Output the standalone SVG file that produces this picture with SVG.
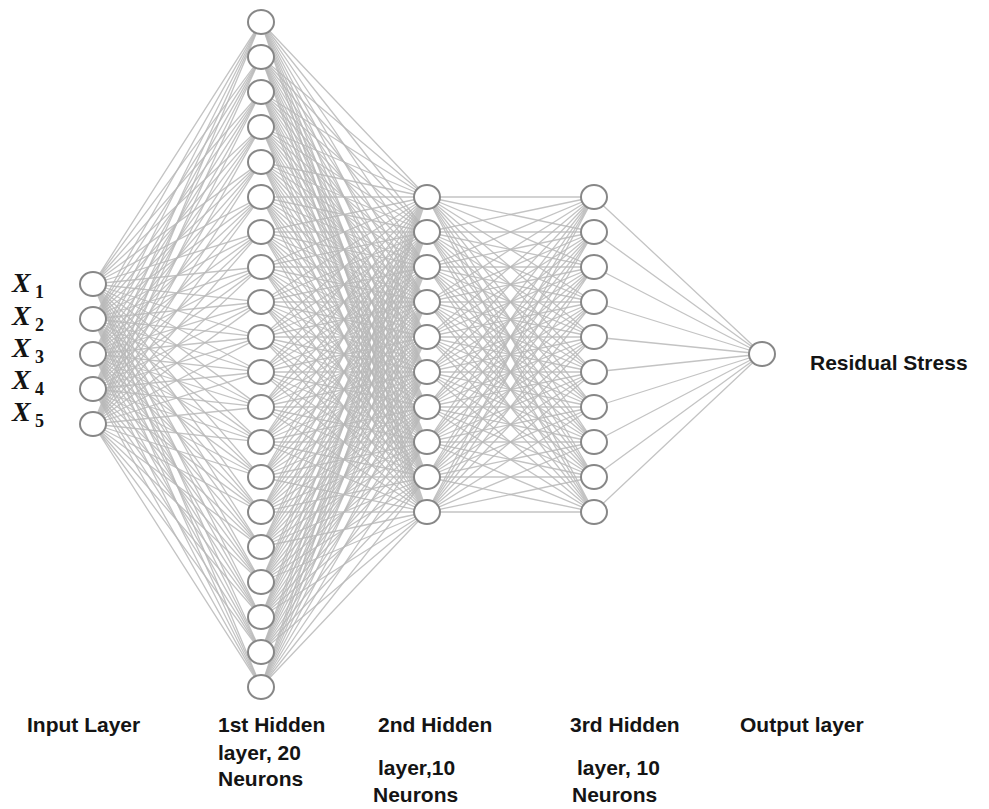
<svg xmlns="http://www.w3.org/2000/svg" width="989" height="809" viewBox="0 0 989 809">
<style>
.e{fill:none;stroke:#b8b8b8;stroke-width:1.3;stroke-opacity:0.85;stroke-linejoin:round}
.n{fill:#fff;stroke:#878787;stroke-width:2}
.t{font-family:"Liberation Sans",Arial,sans-serif;font-weight:bold;font-size:21px;fill:#141414}
.x{font-family:"Liberation Serif","Times New Roman",serif;font-weight:bold;font-style:italic;font-size:28px;fill:#141414}
.s{font-family:"Liberation Serif","Times New Roman",serif;font-weight:bold;font-size:18px;fill:#141414}
</style>
<rect width="989" height="809" fill="#fff"/>
<g id="connectors">
<path class="e" d="M93 284L261 22 93 284 261 57 93 284 261 92 93 284 261 127 93 284 261 162 93 284 261 197 93 284 261 232 93 284 261 267 93 284 261 302 93 284 261 337 93 284 261 372 93 284 261 407 93 284 261 442 93 284 261 477 93 284 261 512 93 284 261 547 93 284 261 582 93 284 261 617 93 284 261 652 93 284 261 687"/>
<path class="e" d="M93 319L261 22 93 319 261 57 93 319 261 92 93 319 261 127 93 319 261 162 93 319 261 197 93 319 261 232 93 319 261 267 93 319 261 302 93 319 261 337 93 319 261 372 93 319 261 407 93 319 261 442 93 319 261 477 93 319 261 512 93 319 261 547 93 319 261 582 93 319 261 617 93 319 261 652 93 319 261 687"/>
<path class="e" d="M93 354L261 22 93 354 261 57 93 354 261 92 93 354 261 127 93 354 261 162 93 354 261 197 93 354 261 232 93 354 261 267 93 354 261 302 93 354 261 337 93 354 261 372 93 354 261 407 93 354 261 442 93 354 261 477 93 354 261 512 93 354 261 547 93 354 261 582 93 354 261 617 93 354 261 652 93 354 261 687"/>
<path class="e" d="M93 389L261 22 93 389 261 57 93 389 261 92 93 389 261 127 93 389 261 162 93 389 261 197 93 389 261 232 93 389 261 267 93 389 261 302 93 389 261 337 93 389 261 372 93 389 261 407 93 389 261 442 93 389 261 477 93 389 261 512 93 389 261 547 93 389 261 582 93 389 261 617 93 389 261 652 93 389 261 687"/>
<path class="e" d="M93 424L261 22 93 424 261 57 93 424 261 92 93 424 261 127 93 424 261 162 93 424 261 197 93 424 261 232 93 424 261 267 93 424 261 302 93 424 261 337 93 424 261 372 93 424 261 407 93 424 261 442 93 424 261 477 93 424 261 512 93 424 261 547 93 424 261 582 93 424 261 617 93 424 261 652 93 424 261 687"/>
<path class="e" d="M427 197L261 22 427 197 261 57 427 197 261 92 427 197 261 127 427 197 261 162 427 197 261 197 427 197 261 232 427 197 261 267 427 197 261 302 427 197 261 337 427 197 261 372 427 197 261 407 427 197 261 442 427 197 261 477 427 197 261 512 427 197 261 547 427 197 261 582 427 197 261 617 427 197 261 652 427 197 261 687"/>
<path class="e" d="M427 232L261 22 427 232 261 57 427 232 261 92 427 232 261 127 427 232 261 162 427 232 261 197 427 232 261 232 427 232 261 267 427 232 261 302 427 232 261 337 427 232 261 372 427 232 261 407 427 232 261 442 427 232 261 477 427 232 261 512 427 232 261 547 427 232 261 582 427 232 261 617 427 232 261 652 427 232 261 687"/>
<path class="e" d="M427 267L261 22 427 267 261 57 427 267 261 92 427 267 261 127 427 267 261 162 427 267 261 197 427 267 261 232 427 267 261 267 427 267 261 302 427 267 261 337 427 267 261 372 427 267 261 407 427 267 261 442 427 267 261 477 427 267 261 512 427 267 261 547 427 267 261 582 427 267 261 617 427 267 261 652 427 267 261 687"/>
<path class="e" d="M427 302L261 22 427 302 261 57 427 302 261 92 427 302 261 127 427 302 261 162 427 302 261 197 427 302 261 232 427 302 261 267 427 302 261 302 427 302 261 337 427 302 261 372 427 302 261 407 427 302 261 442 427 302 261 477 427 302 261 512 427 302 261 547 427 302 261 582 427 302 261 617 427 302 261 652 427 302 261 687"/>
<path class="e" d="M427 337L261 22 427 337 261 57 427 337 261 92 427 337 261 127 427 337 261 162 427 337 261 197 427 337 261 232 427 337 261 267 427 337 261 302 427 337 261 337 427 337 261 372 427 337 261 407 427 337 261 442 427 337 261 477 427 337 261 512 427 337 261 547 427 337 261 582 427 337 261 617 427 337 261 652 427 337 261 687"/>
<path class="e" d="M427 372L261 22 427 372 261 57 427 372 261 92 427 372 261 127 427 372 261 162 427 372 261 197 427 372 261 232 427 372 261 267 427 372 261 302 427 372 261 337 427 372 261 372 427 372 261 407 427 372 261 442 427 372 261 477 427 372 261 512 427 372 261 547 427 372 261 582 427 372 261 617 427 372 261 652 427 372 261 687"/>
<path class="e" d="M427 407L261 22 427 407 261 57 427 407 261 92 427 407 261 127 427 407 261 162 427 407 261 197 427 407 261 232 427 407 261 267 427 407 261 302 427 407 261 337 427 407 261 372 427 407 261 407 427 407 261 442 427 407 261 477 427 407 261 512 427 407 261 547 427 407 261 582 427 407 261 617 427 407 261 652 427 407 261 687"/>
<path class="e" d="M427 442L261 22 427 442 261 57 427 442 261 92 427 442 261 127 427 442 261 162 427 442 261 197 427 442 261 232 427 442 261 267 427 442 261 302 427 442 261 337 427 442 261 372 427 442 261 407 427 442 261 442 427 442 261 477 427 442 261 512 427 442 261 547 427 442 261 582 427 442 261 617 427 442 261 652 427 442 261 687"/>
<path class="e" d="M427 477L261 22 427 477 261 57 427 477 261 92 427 477 261 127 427 477 261 162 427 477 261 197 427 477 261 232 427 477 261 267 427 477 261 302 427 477 261 337 427 477 261 372 427 477 261 407 427 477 261 442 427 477 261 477 427 477 261 512 427 477 261 547 427 477 261 582 427 477 261 617 427 477 261 652 427 477 261 687"/>
<path class="e" d="M427 512L261 22 427 512 261 57 427 512 261 92 427 512 261 127 427 512 261 162 427 512 261 197 427 512 261 232 427 512 261 267 427 512 261 302 427 512 261 337 427 512 261 372 427 512 261 407 427 512 261 442 427 512 261 477 427 512 261 512 427 512 261 547 427 512 261 582 427 512 261 617 427 512 261 652 427 512 261 687"/>
<path class="e" d="M594 197L427 197 594 197 427 232 594 197 427 267 594 197 427 302 594 197 427 337 594 197 427 372 594 197 427 407 594 197 427 442 594 197 427 477 594 197 427 512"/>
<path class="e" d="M594 232L427 197 594 232 427 232 594 232 427 267 594 232 427 302 594 232 427 337 594 232 427 372 594 232 427 407 594 232 427 442 594 232 427 477 594 232 427 512"/>
<path class="e" d="M594 267L427 197 594 267 427 232 594 267 427 267 594 267 427 302 594 267 427 337 594 267 427 372 594 267 427 407 594 267 427 442 594 267 427 477 594 267 427 512"/>
<path class="e" d="M594 302L427 197 594 302 427 232 594 302 427 267 594 302 427 302 594 302 427 337 594 302 427 372 594 302 427 407 594 302 427 442 594 302 427 477 594 302 427 512"/>
<path class="e" d="M594 337L427 197 594 337 427 232 594 337 427 267 594 337 427 302 594 337 427 337 594 337 427 372 594 337 427 407 594 337 427 442 594 337 427 477 594 337 427 512"/>
<path class="e" d="M594 372L427 197 594 372 427 232 594 372 427 267 594 372 427 302 594 372 427 337 594 372 427 372 594 372 427 407 594 372 427 442 594 372 427 477 594 372 427 512"/>
<path class="e" d="M594 407L427 197 594 407 427 232 594 407 427 267 594 407 427 302 594 407 427 337 594 407 427 372 594 407 427 407 594 407 427 442 594 407 427 477 594 407 427 512"/>
<path class="e" d="M594 442L427 197 594 442 427 232 594 442 427 267 594 442 427 302 594 442 427 337 594 442 427 372 594 442 427 407 594 442 427 442 594 442 427 477 594 442 427 512"/>
<path class="e" d="M594 477L427 197 594 477 427 232 594 477 427 267 594 477 427 302 594 477 427 337 594 477 427 372 594 477 427 407 594 477 427 442 594 477 427 477 594 477 427 512"/>
<path class="e" d="M594 512L427 197 594 512 427 232 594 512 427 267 594 512 427 302 594 512 427 337 594 512 427 372 594 512 427 407 594 512 427 442 594 512 427 477 594 512 427 512"/>
<path class="e" d="M762 354L594 197 762 354 594 232 762 354 594 267 762 354 594 302 762 354 594 337 762 354 594 372 762 354 594 407 762 354 594 442 762 354 594 477 762 354 594 512"/>
</g>
<g id="input-layer">
<g id="in1"><ellipse class="n" cx="93" cy="284" rx="13" ry="12"/><text class="x" x="12" y="292">X</text><text class="s" x="35" y="298">1</text></g>
<g id="in2"><ellipse class="n" cx="93" cy="319" rx="13" ry="12"/><text class="x" x="12" y="325">X</text><text class="s" x="35" y="331">2</text></g>
<g id="in3"><ellipse class="n" cx="93" cy="354" rx="13" ry="12"/><text class="x" x="12" y="357">X</text><text class="s" x="35" y="363">3</text></g>
<g id="in4"><ellipse class="n" cx="93" cy="389" rx="13" ry="12"/><text class="x" x="12" y="389">X</text><text class="s" x="35" y="395">4</text></g>
<g id="in5"><ellipse class="n" cx="93" cy="424" rx="13" ry="12"/><text class="x" x="12" y="421">X</text><text class="s" x="35" y="427">5</text></g>
</g>
<g id="hidden1">
<g id="h1-1"><ellipse class="n" cx="261" cy="22" rx="13" ry="12"/></g>
<g id="h1-2"><ellipse class="n" cx="261" cy="57" rx="13" ry="12"/></g>
<g id="h1-3"><ellipse class="n" cx="261" cy="92" rx="13" ry="12"/></g>
<g id="h1-4"><ellipse class="n" cx="261" cy="127" rx="13" ry="12"/></g>
<g id="h1-5"><ellipse class="n" cx="261" cy="162" rx="13" ry="12"/></g>
<g id="h1-6"><ellipse class="n" cx="261" cy="197" rx="13" ry="12"/></g>
<g id="h1-7"><ellipse class="n" cx="261" cy="232" rx="13" ry="12"/></g>
<g id="h1-8"><ellipse class="n" cx="261" cy="267" rx="13" ry="12"/></g>
<g id="h1-9"><ellipse class="n" cx="261" cy="302" rx="13" ry="12"/></g>
<g id="h1-10"><ellipse class="n" cx="261" cy="337" rx="13" ry="12"/></g>
<g id="h1-11"><ellipse class="n" cx="261" cy="372" rx="13" ry="12"/></g>
<g id="h1-12"><ellipse class="n" cx="261" cy="407" rx="13" ry="12"/></g>
<g id="h1-13"><ellipse class="n" cx="261" cy="442" rx="13" ry="12"/></g>
<g id="h1-14"><ellipse class="n" cx="261" cy="477" rx="13" ry="12"/></g>
<g id="h1-15"><ellipse class="n" cx="261" cy="512" rx="13" ry="12"/></g>
<g id="h1-16"><ellipse class="n" cx="261" cy="547" rx="13" ry="12"/></g>
<g id="h1-17"><ellipse class="n" cx="261" cy="582" rx="13" ry="12"/></g>
<g id="h1-18"><ellipse class="n" cx="261" cy="617" rx="13" ry="12"/></g>
<g id="h1-19"><ellipse class="n" cx="261" cy="652" rx="13" ry="12"/></g>
<g id="h1-20"><ellipse class="n" cx="261" cy="687" rx="13" ry="12"/></g>
</g>
<g id="hidden2">
<g id="h2-1"><ellipse class="n" cx="427" cy="197" rx="13" ry="12"/></g>
<g id="h2-2"><ellipse class="n" cx="427" cy="232" rx="13" ry="12"/></g>
<g id="h2-3"><ellipse class="n" cx="427" cy="267" rx="13" ry="12"/></g>
<g id="h2-4"><ellipse class="n" cx="427" cy="302" rx="13" ry="12"/></g>
<g id="h2-5"><ellipse class="n" cx="427" cy="337" rx="13" ry="12"/></g>
<g id="h2-6"><ellipse class="n" cx="427" cy="372" rx="13" ry="12"/></g>
<g id="h2-7"><ellipse class="n" cx="427" cy="407" rx="13" ry="12"/></g>
<g id="h2-8"><ellipse class="n" cx="427" cy="442" rx="13" ry="12"/></g>
<g id="h2-9"><ellipse class="n" cx="427" cy="477" rx="13" ry="12"/></g>
<g id="h2-10"><ellipse class="n" cx="427" cy="512" rx="13" ry="12"/></g>
</g>
<g id="hidden3">
<g id="h3-1"><ellipse class="n" cx="594" cy="197" rx="13" ry="12"/></g>
<g id="h3-2"><ellipse class="n" cx="594" cy="232" rx="13" ry="12"/></g>
<g id="h3-3"><ellipse class="n" cx="594" cy="267" rx="13" ry="12"/></g>
<g id="h3-4"><ellipse class="n" cx="594" cy="302" rx="13" ry="12"/></g>
<g id="h3-5"><ellipse class="n" cx="594" cy="337" rx="13" ry="12"/></g>
<g id="h3-6"><ellipse class="n" cx="594" cy="372" rx="13" ry="12"/></g>
<g id="h3-7"><ellipse class="n" cx="594" cy="407" rx="13" ry="12"/></g>
<g id="h3-8"><ellipse class="n" cx="594" cy="442" rx="13" ry="12"/></g>
<g id="h3-9"><ellipse class="n" cx="594" cy="477" rx="13" ry="12"/></g>
<g id="h3-10"><ellipse class="n" cx="594" cy="512" rx="13" ry="12"/></g>
</g>
<g id="output">
<ellipse class="n" cx="762" cy="354" rx="13" ry="12"/>
<text class="t" x="810" y="370">Residual Stress</text>
</g>
<g id="layer-labels">
<text class="t" x="27" y="732">Input Layer</text>
<text class="t" x="218" y="732">1st Hidden</text>
<text class="t" x="218" y="760">layer, 20</text>
<text class="t" x="218" y="786">Neurons</text>
<text class="t" x="378" y="732">2nd Hidden</text>
<text class="t" x="378" y="775">layer,10</text>
<text class="t" x="373" y="802">Neurons</text>
<text class="t" x="570" y="732">3rd Hidden</text>
<text class="t" x="577" y="775">layer, 10</text>
<text class="t" x="572" y="802">Neurons</text>
<text class="t" x="740" y="732">Output layer</text>
</g>
</svg>
